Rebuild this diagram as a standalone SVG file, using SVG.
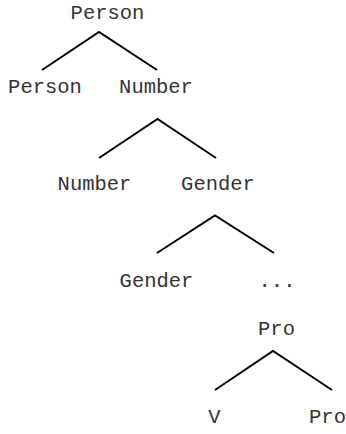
<svg xmlns="http://www.w3.org/2000/svg" width="346" height="434" viewBox="0 0 346 434">
  <style>
    .lbl { font-family: "Liberation Mono", "Courier New", monospace; font-size: 20.5px; fill: #333; text-anchor: middle; }
    .edge { stroke: #000; stroke-width: 2; fill: none; stroke-linejoin: miter; }
  </style>
  <rect width="346" height="434" fill="#fff"/>
  <!-- connectors: each branching drawn as one inverted V -->
  <g id="connectors">
    <polyline class="edge" points="42,70 99,32 157,70"/>
    <polyline class="edge" points="99,158 157.5,119 216,158"/>
    <polyline class="edge" points="157,253 215,215.5 274,253"/>
    <polyline class="edge" points="215,390 273,351 332,390"/>
  </g>
  <g id="n-person-root"><text class="lbl" x="107.5" y="19">Person</text></g>
  <g id="n-person"><text class="lbl" x="45" y="93">Person</text></g>
  <g id="n-number-1"><text class="lbl" x="156" y="93">Number</text></g>
  <g id="n-number-2"><text class="lbl" x="94.5" y="190">Number</text></g>
  <g id="n-gender-1"><text class="lbl" x="218" y="190">Gender</text></g>
  <g id="n-gender-2"><text class="lbl" x="156.5" y="287">Gender</text></g>
  <g id="n-ellipsis"><text class="lbl" x="277" y="287">...</text></g>
  <g id="n-pro-1"><text class="lbl" x="276.5" y="335">Pro</text></g>
  <g id="n-v"><text class="lbl" x="214.5" y="423">V</text></g>
  <g id="n-pro-2"><text class="lbl" x="327.5" y="423">Pro</text></g>
</svg>
